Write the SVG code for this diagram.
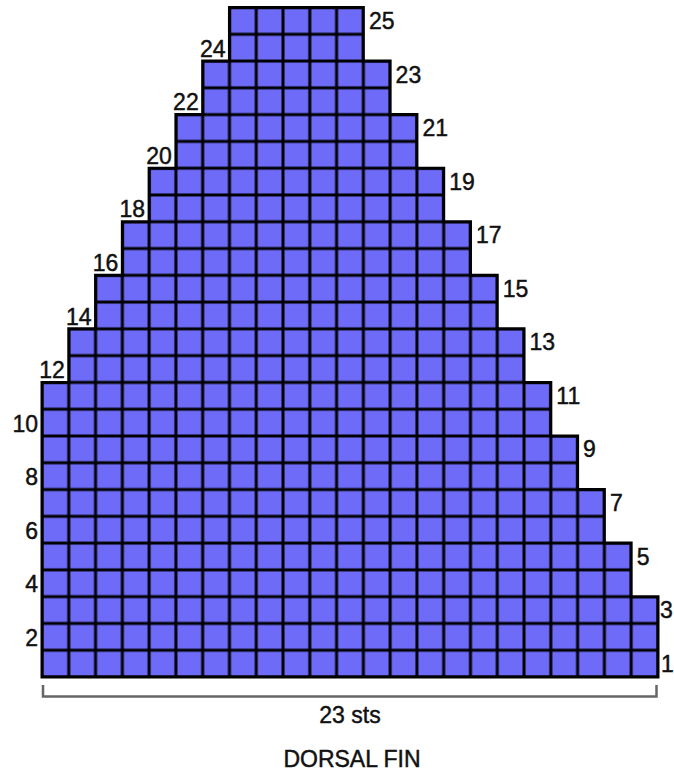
<svg xmlns="http://www.w3.org/2000/svg" width="674" height="776" viewBox="0 0 674 776">
<style>
.lbl{font-family:"Liberation Sans",Arial,sans-serif;font-size:23px;fill:#111;stroke:#111;stroke-width:0.45}
.r{text-anchor:start}
.l{text-anchor:end}
.c{text-anchor:middle}
</style>
<defs>
<pattern id="cell" x="42" y="7.5" width="26.78" height="26.78" patternUnits="userSpaceOnUse">
<rect width="26.78" height="26.78" fill="#6e6bf9"/>
<path d="M0 0V26.78M26.78 0V26.78M0 0H26.78M0 26.78H26.78" stroke="#000" stroke-width="3" fill="none"/>
</pattern>
</defs>
<rect width="674" height="776" fill="#fff"/>
<g id="chart">
<path id="grid" d="M42 677H658V596.66H631.16V543.10H604.38V489.54H577.60V435.98H550.82V382.42H524.04V328.86H497.26V275.30H470.48V221.74H443.70V168.18H416.92V114.62H390.14V61.06H363.36V7.5H229.46V61.06H202.68V114.62H175.90V168.18H149.12V221.74H122.34V275.30H95.56V328.86H68.78V382.42H42Z" fill="url(#cell)" stroke="#000" stroke-width="3" stroke-linejoin="miter"/>
</g>
<g id="right-labels" class="lbl r">
<text x="661" y="671.6">1</text>
<text x="660" y="618">3</text>
<text x="636.7" y="564.5">5</text>
<text x="609.9" y="510.9">7</text>
<text x="583.1" y="457.4">9</text>
<text x="556.3" y="403.8">11</text>
<text x="529.5" y="350.3">13</text>
<text x="502.8" y="296.7">15</text>
<text x="476" y="243.1">17</text>
<text x="449.2" y="189.6">19</text>
<text x="422.4" y="136">21</text>
<text x="395.6" y="82.5">23</text>
<text x="368.9" y="29.4">25</text>
</g>
<g id="left-labels" class="lbl l">
<text x="38" y="645.8">2</text>
<text x="38" y="592.3">4</text>
<text x="38" y="538.7">6</text>
<text x="38" y="485.2">8</text>
<text x="38" y="431.6">10</text>
<text x="64.8" y="378">12</text>
<text x="91.6" y="324.5">14</text>
<text x="118.3" y="270.9">16</text>
<text x="145.1" y="217.4">18</text>
<text x="171.9" y="163.8">20</text>
<text x="198.7" y="110.2">22</text>
<text x="225.5" y="56.7">24</text>
</g>
<g id="bracket">
<path d="M43 685V696.5H656.5V685" fill="none" stroke="#666" stroke-width="2.5"/>
<text class="lbl c" x="350" y="723">23 sts</text>
</g>
<text id="title" class="lbl c" x="352" y="767">DORSAL FIN</text>
</svg>
